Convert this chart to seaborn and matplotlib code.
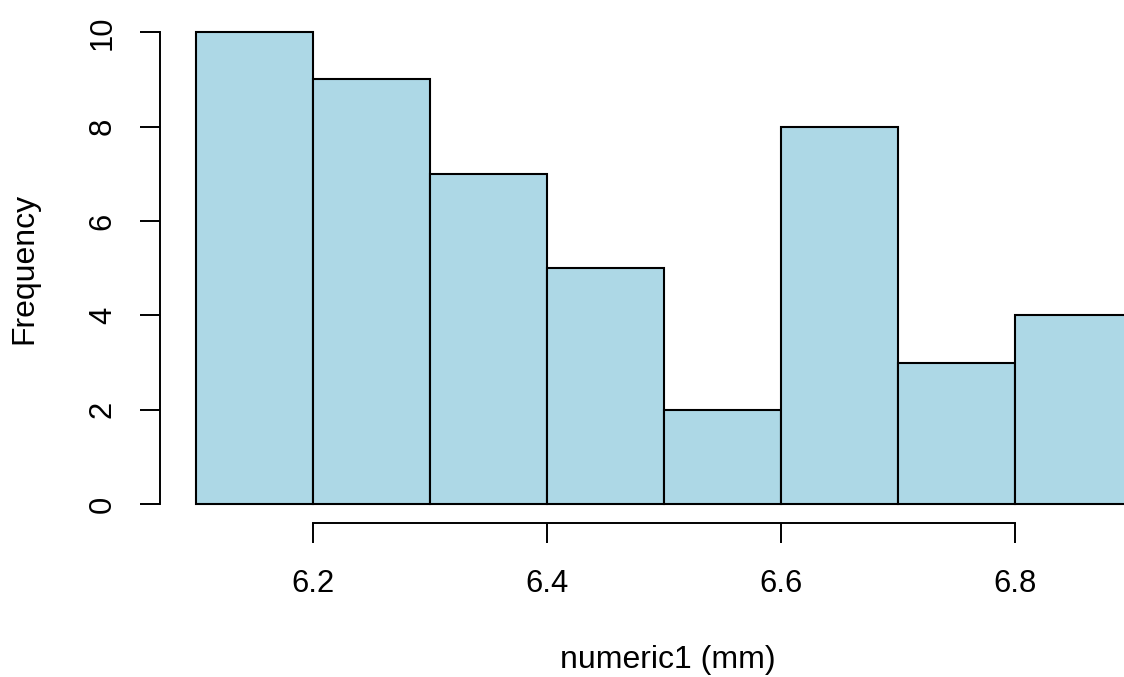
import numpy as np
import pandas as pd
import seaborn as sns
import matplotlib.pyplot as plt

# histogram bins
bin_edges = [6.1, 6.2, 6.3, 6.4, 6.5, 6.6, 6.7, 6.8, 6.9]
counts = [10, 9, 7, 5, 2, 8, 3, 4]
x_ticks = [6.2, 6.4, 6.6, 6.8]
y_ticks = [0, 2, 4, 6, 8, 10]

df = pd.DataFrame({
    'mid': [(a + b) / 2 for a, b in zip(bin_edges[:-1], bin_edges[1:])],
    'count': counts,
})

sns.set_style('white')
plt.rcParams['font.family'] = ['Liberation Sans', 'DejaVu Sans']
plt.rcParams['text.color'] = 'black'
plt.rcParams['axes.labelcolor'] = 'black'

W, H = 1124, 677
fig = plt.figure(figsize=(W / 100, H / 100), dpi=100)
# plot region in pixels: left 160, right 1124, bottom 523, top 20
ax = fig.add_axes([160 / W, (H - 523) / H, (1124 - 160) / W, (523 - 20) / H])

sns.histplot(data=df, x='mid', weights='count', bins=bin_edges, color='#ADD8E6',
             edgecolor='black', linewidth=1.5, alpha=1, ax=ax)

ax.set_xlim(6.0692, 6.8932)
ax.set_ylim(-0.396, 10.26)

for s in ['top', 'right']:
    ax.spines[s].set_visible(False)
ax.spines['left'].set_bounds(0, 10)
ax.spines['bottom'].set_bounds(6.2, 6.8)
for s in ['left', 'bottom']:
    ax.spines[s].set_linewidth(1.4)
    ax.spines[s].set_color('black')

ax.set_xticks(x_ticks)
ax.set_xticklabels([f'{t:.1f}' for t in x_ticks])
ax.set_yticks(y_ticks)
ax.set_yticklabels([str(t) for t in y_ticks])
ax.tick_params(axis='both', direction='out', length=14.4, width=1.4, color='black',
               labelsize=22.3, labelcolor='black')
ax.tick_params(axis='x', pad=18.5, bottom=True)
ax.tick_params(axis='y', pad=16, left=True, labelrotation=90)
for lab in ax.get_yticklabels():
    lab.set_va('center')

ax.set_xlabel('numeric1 (mm)', fontsize=23)
ax.set_ylabel('Frequency', fontsize=23)
ax.xaxis.set_label_coords((668 - 160) / 964, (523 - 660) / 503)
ax.xaxis.label.set_va('center')
ax.yaxis.set_label_coords((24 - 160) / 964, 0.5 + (523 - 268 - 251.5) / 503)
ax.yaxis.label.set_va('center')
ax.yaxis.label.set_ha('center')

fig.savefig('out.png', dpi=100)
